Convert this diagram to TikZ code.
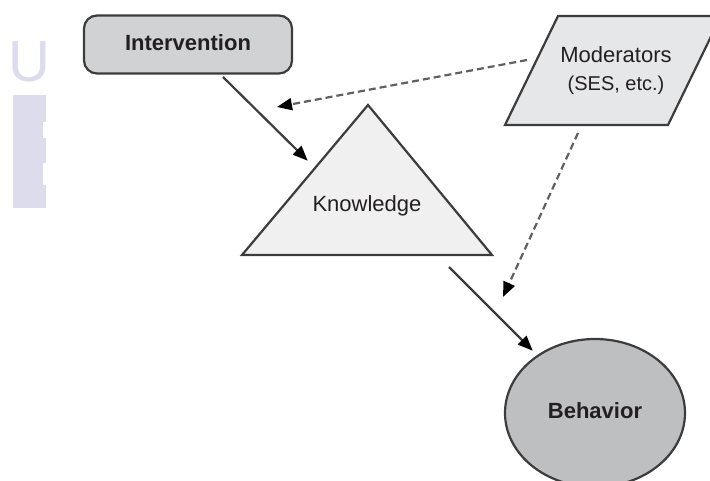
\documentclass[tikz,border=0pt]{standalone}
\usepackage{fontspec}
\setmainfont{Liberation Sans}
\usetikzlibrary{arrows.meta,shapes.geometric}
\definecolor{bordc}{RGB}{60,60,60}
\definecolor{intfill}{RGB}{209,210,212}
\definecolor{modfill}{RGB}{230,231,232}
\definecolor{knowfill}{RGB}{240,240,240}
\definecolor{behfill}{RGB}{190,191,193}
\definecolor{txtc}{RGB}{35,31,32}
\definecolor{wm}{RGB}{220,220,236}
\tikzset{
  shapeline/.style={draw=bordc, line width=2.2pt},
  lbl/.style={text=txtc, font=\fontsize{22}{28}\selectfont, inner sep=0pt, align=center},
  solidarrow/.style={draw=bordc, line width=2.2pt, -{Triangle[length=15pt,width=12pt,fill=black,color=black]}, shorten >=-1pt},
  dasharrow/.style={draw=gray!75!black, line width=2.2pt, dash pattern=on 7pt off 4pt, -{Triangle[length=15pt,width=12pt,fill=black,color=black]}},
}
\begin{document}
\begin{tikzpicture}[x=1pt,y=-1pt]
\useasboundingbox (0,0) rectangle (710,481);
% watermark
\fill[wm] (13,95) rectangle (46,208);
\fill[white] (43,122) rectangle (47,138);
\fill[white] (43,163) rectangle (47,185);
\node[anchor=base, inner sep=0pt, text=wm, font=\fontsize{58}{60}\selectfont] (wmU) at (29,82) {U};
% Intervention
\node[shapeline, fill=intfill, rounded corners=13pt, minimum width=208pt, minimum height=58pt, inner sep=0pt] (interv) at (188,44.5) {};
\node[lbl, font=\fontsize{22}{28}\selectfont\bfseries] (intervT) at (188,43) {Intervention};
% Moderators parallelogram
\path[shapeline, fill=modfill] (505,125) -- (558,16) -- (721,16) -- (668,125) -- cycle;
\node[lbl] (mod) at (616,71) {Moderators\\{\fontsize{20}{28}\selectfont (SES, etc.)}};
% Knowledge triangle
\path[shapeline, fill=knowfill] (242,255) -- (368,105) -- (492,255) -- cycle;
\node[lbl] (know) at (367,206) {Knowledge};
% Behavior ellipse
\node[ellipse, shapeline, fill=behfill, minimum width=180pt, minimum height=148pt, inner sep=0pt] (beh) at (595,413) {};
\node[lbl, font=\fontsize{22}{28}\selectfont\bfseries] (behT) at (595,411) {Behavior};
% connector end coordinates
\coordinate (c1s) at (223,77);
\coordinate (c1e) at (307,160);
\coordinate (c2s) at (527,60);
\coordinate (c2e) at (277,107);
\coordinate (c3s) at (578,133);
\coordinate (c3e) at (503,297);
\coordinate (c4s) at (449,267);
\coordinate (c4e) at (532,350);
\draw[solidarrow] (c1s) -- (c1e);
\draw[dasharrow] (c2s) -- (c2e);
\draw[dasharrow] (c3s) -- (c3e);
\draw[solidarrow] (c4s) -- (c4e);
\end{tikzpicture}
\end{document}
